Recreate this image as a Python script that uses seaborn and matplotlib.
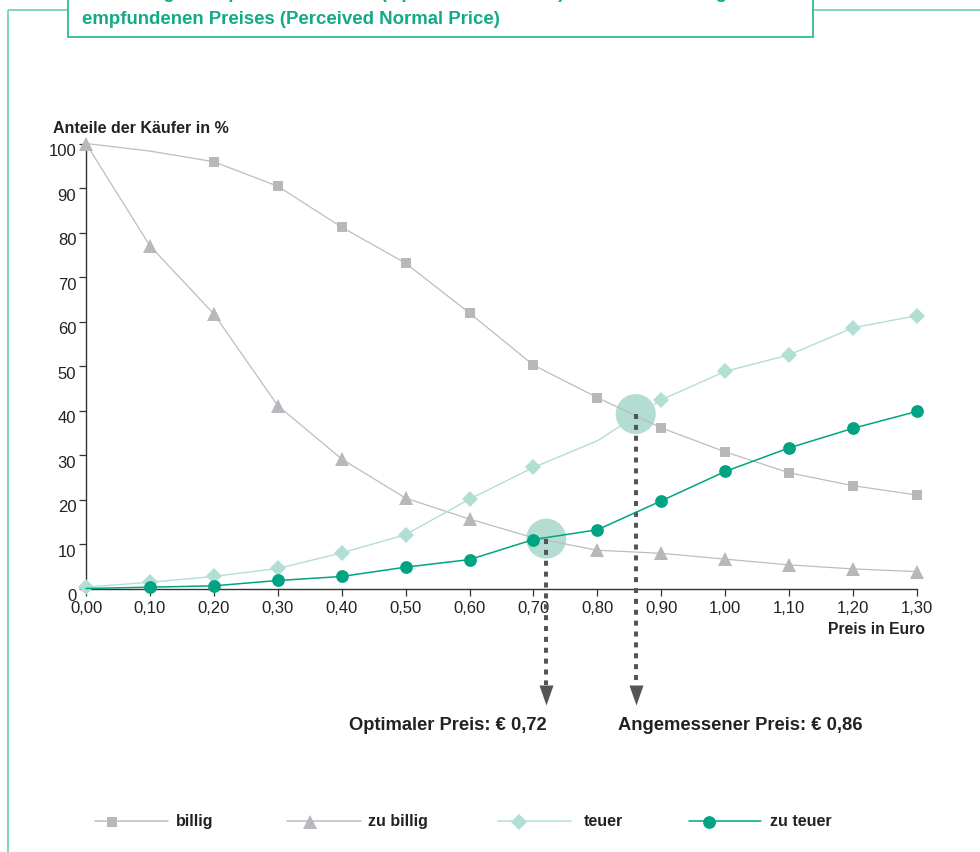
import matplotlib
matplotlib.use("Agg")
import matplotlib.pyplot as plt
import matplotlib.transforms as mtransforms
from matplotlib.patches import Rectangle
import seaborn as sns
import pandas as pd

# --- data -----------------------------------------------------------------
preis = [0.0, 0.1, 0.2, 0.3, 0.4, 0.5, 0.6, 0.7, 0.8, 0.9, 1.0, 1.1, 1.2, 1.3]
billig = [100, 98.3, 95.9, 90.4, 81.2, 73.1, 61.9, 50.2, 42.9, 36.1, 30.7, 26.0, 23.1, 21.0]
zu_billig = [100, 77.0, 61.7, 41.1, 29.1, 20.3, 15.6, 11.4, 8.6, 7.9, 6.6, 5.3, 4.4, 3.8]
teuer = [0.3, 1.4, 2.7, 4.5, 8.0, 12.1, 20.1, 27.2, 33.2, 42.4, 48.8, 52.5, 58.6, 61.3]
zu_teuer = [0.0, 0.3, 0.6, 1.8, 2.7, 4.8, 6.5, 11.0, 13.2, 19.7, 26.3, 31.6, 36.0, 39.8]

x_ticks = [0.0, 0.1, 0.2, 0.3, 0.4, 0.5, 0.6, 0.7, 0.8, 0.9, 1.0, 1.1, 1.2, 1.3]
x_labels = ["0,00", "0,10", "0,20", "0,30", "0,40", "0,50", "0,60",
            "0,70", "0,80", "0,90", "1,00", "1,10", "1,20", "1,30"]
y_ticks = [0, 10, 20, 30, 40, 50, 60, 70, 80, 90, 100]

optimal_preis, optimal_anteil = 0.72, 11.2
normal_preis, normal_anteil = 0.86, 39.2

title_lines = ["Ermittlung des optimalen Preises (Optimal Price Point) sowie des als angemessen",
               "empfundenen Preises (Perceived Normal Price)"]

# --- style ----------------------------------------------------------------
sns.set_theme(style="white")
plt.rcParams["font.family"] = ["Liberation Sans", "DejaVu Sans"]

GRAY_LINE = "#bdbdc1"
GRAY_MARK = "#b7b7bc"
TEAL = "#00a482"
LIGHT_TEAL = "#b1dfd3"
HILITE = "#b3ddd2"
FRAME = "#6ccdb3"
BOX = "#3dbf9f"
TITLE = "#14aa88"
TXT = "#222222"
DOT = "#555555"

W, H = 980, 853
fig = plt.figure(figsize=(W / 100, H / 100), dpi=100)

# pixel-space layer for frame, title box and legend
pax = fig.add_axes([0, 0, 1, 1], zorder=0)
pax.set_xlim(0, W)
pax.set_ylim(H, 0)
pax.axis("off")

# main chart axes
left, right, y0px, y100px = 86, 917, 589.5, 144.5
ax = fig.add_axes([left / W, (H - y0px) / H, (right - left) / W, (y0px - y100px) / H], zorder=1)
ax.patch.set_alpha(0)

df = pd.DataFrame({"preis": preis, "billig": billig, "zu billig": zu_billig,
                   "teuer": teuer, "zu teuer": zu_teuer})

series = [
    ("billig", GRAY_LINE, GRAY_MARK, "s", 7.4, 0.9, [i for i in range(len(preis)) if i not in (0, 1)]),
    ("zu billig", GRAY_LINE, GRAY_MARK, "^", 9.4, 0.9, [i for i in range(len(preis)) if i != 7]),
    ("teuer", LIGHT_TEAL, LIGHT_TEAL, "D", 8.6, 1.0, [i for i in range(len(preis)) if i != 8]),
    ("zu teuer", TEAL, TEAL, "o", 9.2, 1.1, [i for i in range(1, len(preis))]),
]

# highlighted intersection points (below the lines)
ax.scatter([optimal_preis, normal_preis], [optimal_anteil, normal_anteil],
           s=830, color=HILITE, edgecolors="none", zorder=2, clip_on=False)

for name, lc, mc, mk, ms, lw, every in series:
    sns.lineplot(data=df, x="preis", y=name, ax=ax, color=lc, linewidth=lw,
                 marker=mk, markersize=ms, markerfacecolor=mc, markeredgecolor=mc,
                 markeredgewidth=0, markevery=every, clip_on=False,
                 zorder=5 if name == "zu teuer" else 3)

ax.set_xlim(0, 1.3)
ax.set_ylim(0, 100)
ax.set_xlabel("")
ax.set_ylabel("")
for s in ("top", "right"):
    ax.spines[s].set_visible(False)
for s in ("left", "bottom"):
    ax.spines[s].set_color("#333333")
    ax.spines[s].set_linewidth(1.0)

ax.set_xticks(x_ticks)
ax.set_xticklabels(x_labels)
ax.set_yticks(y_ticks)
ax.set_yticklabels([str(v) for v in y_ticks])
ax.tick_params(axis="both", direction="out", length=5, width=0.9, color="#333333",
               labelsize=12, labelcolor=TXT, pad=3, left=True, bottom=True)
ax.tick_params(axis="y", pad=2)
shift = mtransforms.ScaledTranslation(0, -6 / 100, fig.dpi_scale_trans)
for lab in ax.get_yticklabels():
    lab.set_transform(lab.get_transform() + shift)

# axis titles
pax.text(53, 128, "Anteile der Käufer in %", fontsize=11.5, fontweight="bold", color=TXT,
         ha="left", va="center")
pax.text(925, 630, "Preis in Euro", fontsize=11.3, fontweight="bold", color=TXT,
         ha="right", va="center")

# dotted drop lines with arrowheads to the price labels
mixed = mtransforms.blended_transform_factory(ax.transData, pax.transData)
for p, a in [(optimal_preis, optimal_anteil), (normal_preis, normal_anteil)]:
    y_start = pax.transData.inverted().transform(ax.transData.transform((p, a)))[1]
    ax.plot([p, p], [y_start, 686], transform=mixed, color=DOT, lw=2.9,
            linestyle=(0, (1.25, 1.45)), dash_capstyle="butt", clip_on=False, zorder=4)
    ax.plot([p], [696], transform=mixed, marker=[(-7, 10), (7, 10), (0, -10)],
            markersize=14.4, color=DOT, markeredgewidth=0, clip_on=False, zorder=4)

pax.text(447.5, 725, "Optimaler Preis: € 0,72", fontsize=13.2, fontweight="bold",
         color=TXT, ha="center", va="center")
pax.text(740, 725, "Angemessener Preis: € 0,86", fontsize=13.2, fontweight="bold",
         color=TXT, ha="center", va="center")

# frame and title box
pax.plot([8, W], [11, 11], color=FRAME, lw=1.2, solid_capstyle="butt")
pax.plot([8, 8], [11, H], color=FRAME, lw=1.2, solid_capstyle="butt")
pax.add_patch(Rectangle((68, -10), 813 - 68, 37.5 + 10, facecolor="white",
                        edgecolor=BOX, lw=1.4, zorder=2))
pax.text(82, -7, title_lines[0], fontsize=13.4, fontweight="bold", color=TITLE,
         ha="left", va="center", zorder=3)
pax.text(82, 19, title_lines[1], fontsize=13.4, fontweight="bold", color=TITLE,
         ha="left", va="center", zorder=3)

# legend
legend_items = [
    ("billig", GRAY_LINE, GRAY_MARK, "s", 7.4, 95, 168, 112, 176),
    ("zu billig", GRAY_LINE, GRAY_MARK, "^", 9.4, 287, 361, 310, 368),
    ("teuer", LIGHT_TEAL, LIGHT_TEAL, "D", 8.6, 498, 571, 519, 584),
    ("zu teuer", TEAL, TEAL, "o", 9.2, 689, 761, 709, 770),
]
ly = 822
for name, lc, mc, mk, ms, x0, x1, xm, xt in legend_items:
    pax.plot([x0, x1], [ly, ly], color=lc, lw=1.1)
    pax.plot([xm], [ly + 1], marker=mk, markersize=ms, color=mc, markeredgewidth=0)
    pax.text(xt, ly, name, fontsize=11.5, fontweight="bold", color=TXT, ha="left", va="center")

fig.savefig("out.png", dpi=100)
